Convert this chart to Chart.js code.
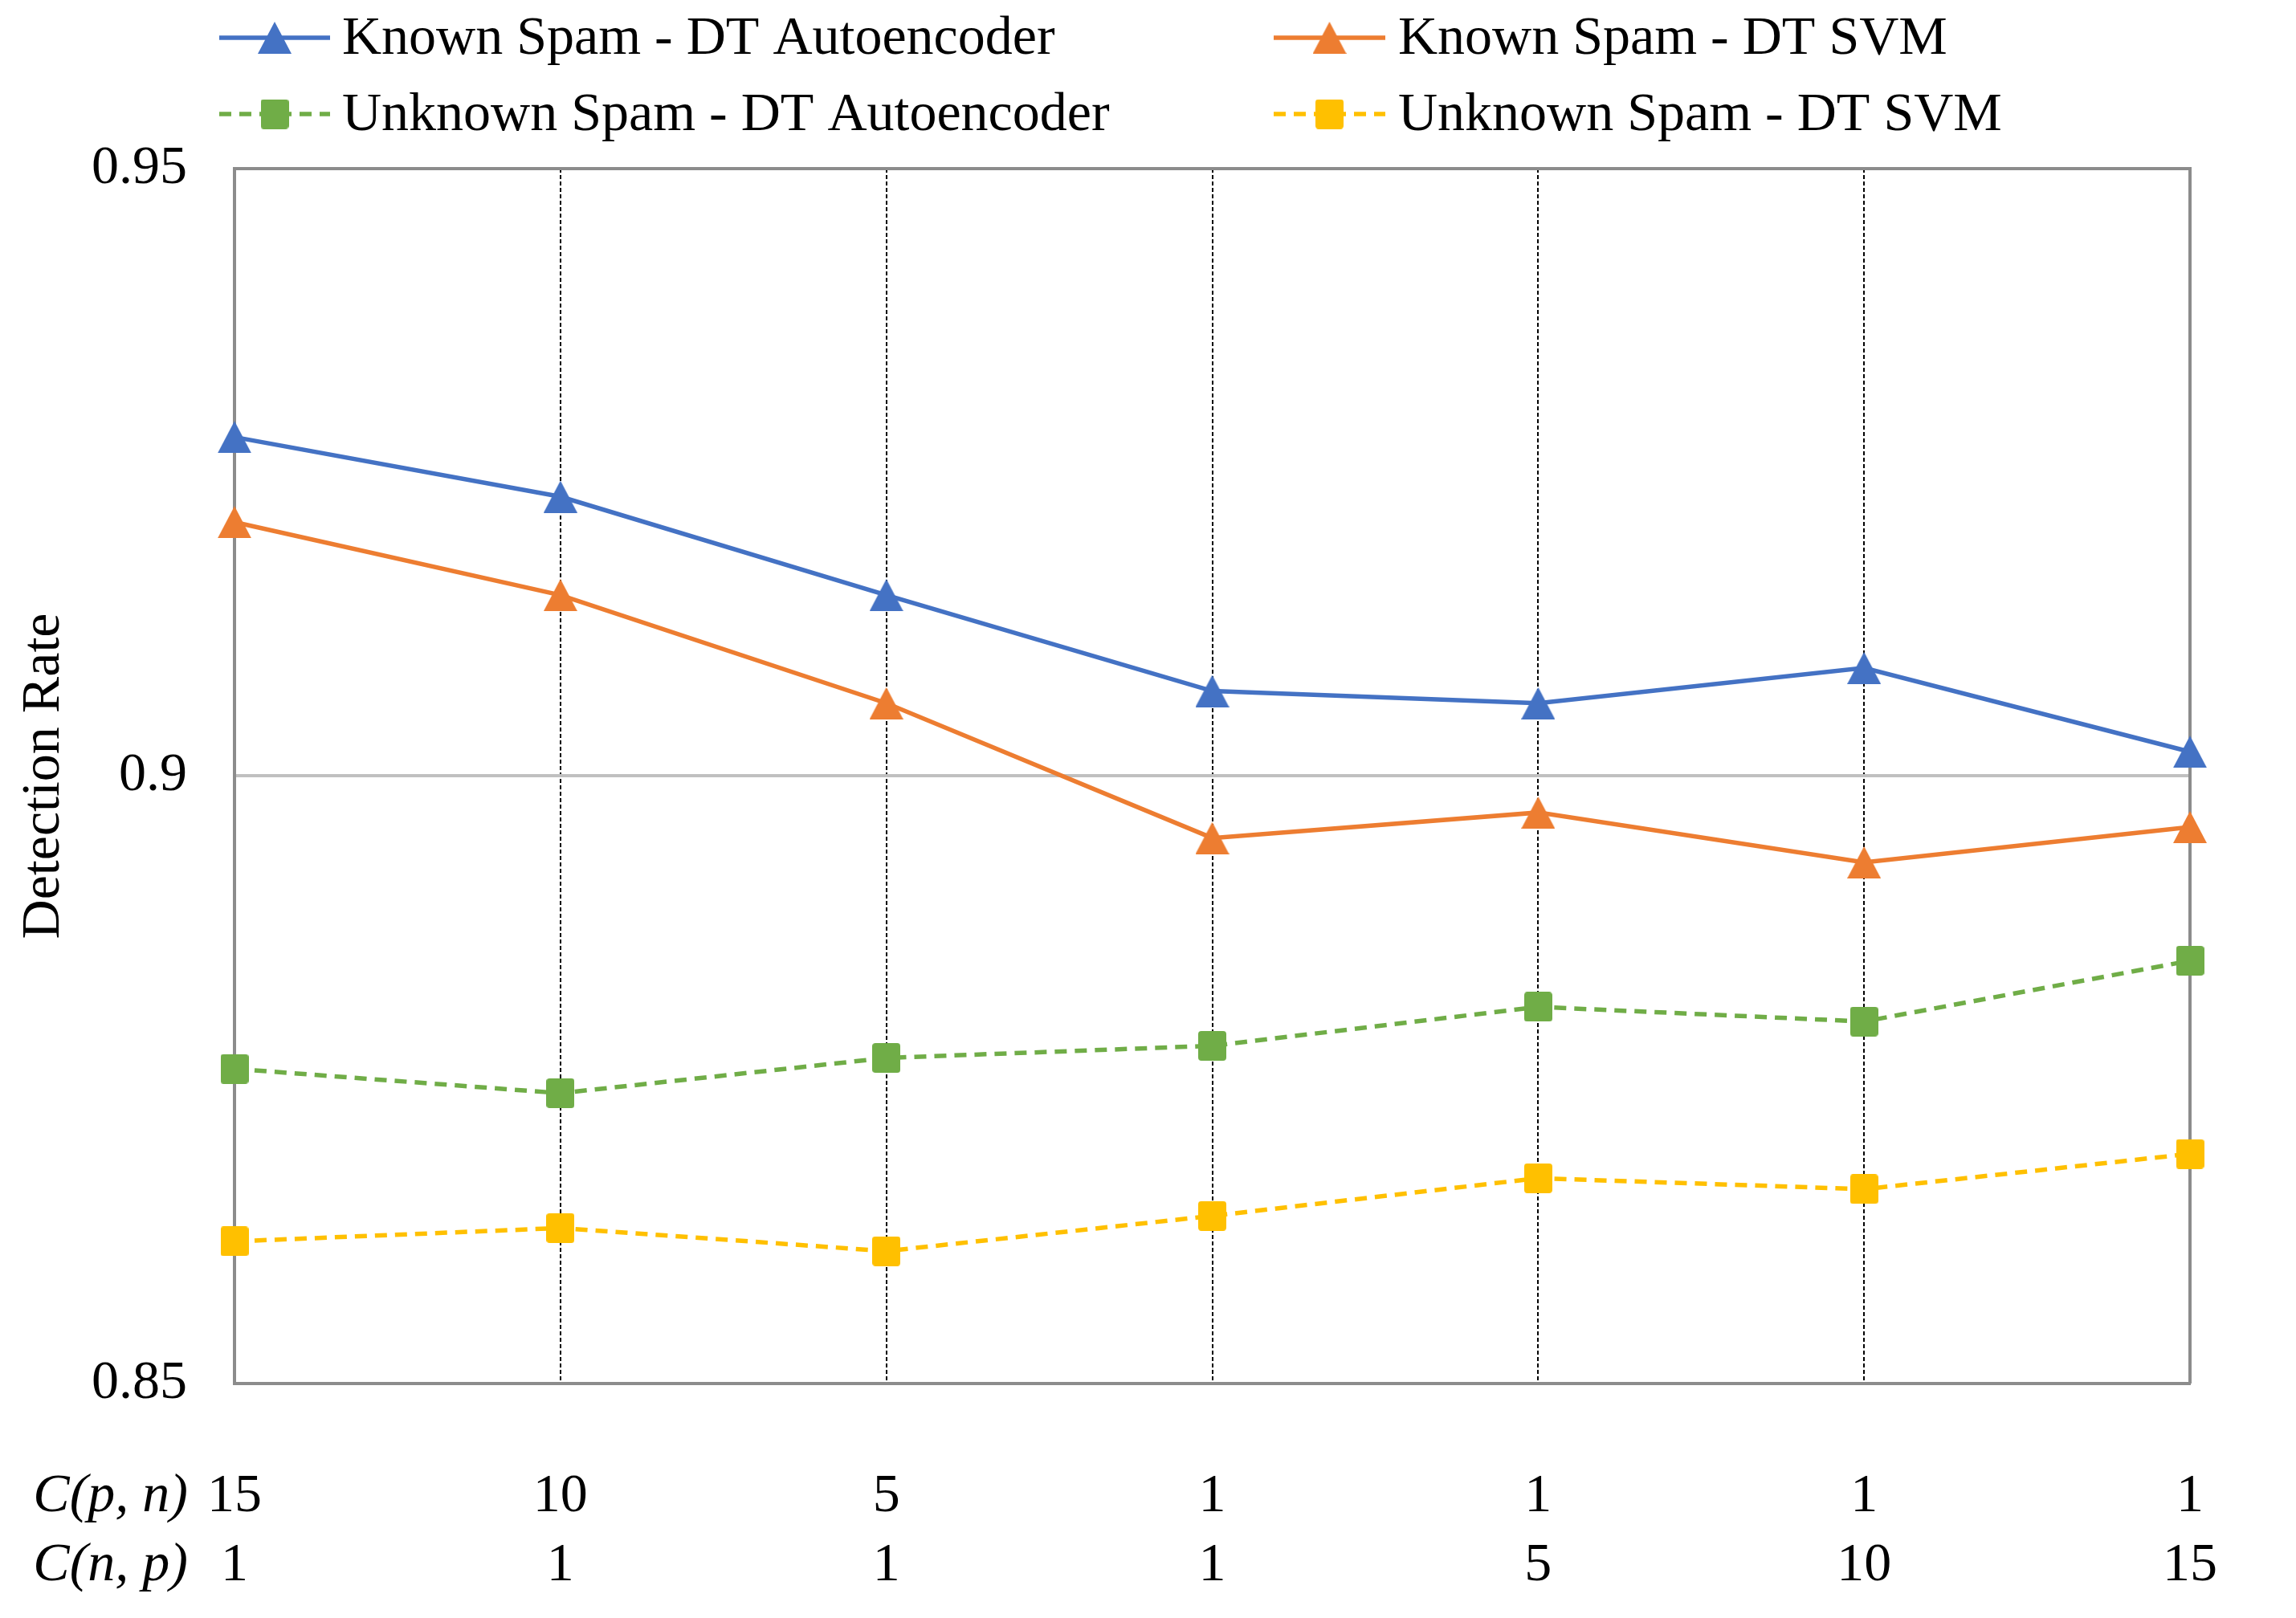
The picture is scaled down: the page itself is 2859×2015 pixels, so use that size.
<!DOCTYPE html>
<html>
<head>
<meta charset="utf-8">
<script src="https://cdn.jsdelivr.net/npm/chart.js@4.4.0/dist/chart.umd.min.js"></script>
<style>
html,body{margin:0;padding:0;background:#fff;}
#wrap{width:2859px;height:2015px;position:relative;}
</style>
</head>
<body>
<div id="wrap"><canvas id="c"></canvas></div>
<script>
// ---- data ----
const cpn = ['15','10','5','1','1','1','1'];
const cnp = ['1','1','1','1','5','10','15'];
const rowHeaders = ['C(p, n)', 'C(n, p)'];
const seriesNames = [
  'Known Spam - DT Autoencoder',
  'Known Spam - DT SVM',
  'Unknown Spam - DT Autoencoder',
  'Unknown Spam - DT SVM'
];
const knownAE    = [0.9279, 0.9230, 0.9149, 0.9070, 0.9060, 0.9089, 0.9020];
const knownSVM   = [0.9209, 0.9149, 0.9060, 0.8949, 0.8970, 0.8929, 0.8958];
const unknownAE  = [0.8759, 0.8739, 0.8768, 0.8778, 0.8810, 0.8798, 0.8848];
const unknownSVM = [0.8617, 0.8628, 0.8609, 0.8638, 0.8669, 0.8660, 0.8689];
const yTicks = [0.85, 0.9, 0.95];
const yTitle = 'Detection Rate';

// ---- styling ----
const FONT = "'Liberation Serif', 'Times New Roman', serif";
const FS = 68;
const colors = ['#4472C4', '#ED7D31', '#70AD47', '#FFC000'];
const AXIS_GRAY = '#8c8c8c';

function triangleImg(color, w, h) {
  const c = document.createElement('canvas'); c.width = w; c.height = h;
  const g = c.getContext('2d'); g.fillStyle = color;
  g.beginPath(); g.moveTo(w / 2, 0); g.lineTo(w, h); g.lineTo(0, h); g.closePath(); g.fill();
  return c;
}
function squareImg(color, w, h, r) {
  const c = document.createElement('canvas'); c.width = w; c.height = h;
  const g = c.getContext('2d'); g.fillStyle = color;
  g.beginPath();
  g.moveTo(r, 0); g.lineTo(w - r, 0); g.quadraticCurveTo(w, 0, w, r);
  g.lineTo(w, h - r); g.quadraticCurveTo(w, h, w - r, h);
  g.lineTo(r, h); g.quadraticCurveTo(0, h, 0, h - r);
  g.lineTo(0, r); g.quadraticCurveTo(0, 0, r, 0);
  g.closePath(); g.fill();
  return c;
}
const markers = [
  triangleImg(colors[0], 42, 40),
  triangleImg(colors[1], 42, 40),
  squareImg(colors[2], 35, 37, 4),
  squareImg(colors[3], 35, 37, 4)
];

const labels = cpn.map((v, i) => [v, cnp[i]]);
const seriesData = [knownAE, knownSVM, unknownAE, unknownSVM];
const dashes = [[], [], [15, 10], [15, 10]];

const datasets = seriesData.map((d, i) => ({
  label: seriesNames[i],
  data: d,
  borderColor: colors[i],
  backgroundColor: colors[i],
  borderWidth: 5.5,
  borderDash: dashes[i],
  pointStyle: markers[i],
  pointRadius: 21,
  tension: 0,
  fill: false,
  clip: false
}));

const X_TICK_PAD = 98;
const X_LINE_H = 86;

const boxPlugin = {
  id: 'boxBorder',
  beforeDatasetsDraw(chart) {
    const {ctx, chartArea: a} = chart;
    ctx.save();
    ctx.strokeStyle = AXIS_GRAY;
    ctx.lineWidth = 4;
    ctx.beginPath();
    ctx.moveTo(a.left, a.top); ctx.lineTo(a.right + 2, a.top);
    ctx.moveTo(a.right, a.top); ctx.lineTo(a.right, a.bottom);
    ctx.stroke();
    ctx.restore();
  }
};

const legendPlugin = {
  id: 'customLegend',
  afterDraw(chart) {
    const ctx = chart.ctx;
    const lineX0 = [273, 1586], lineX1 = [411, 1725], textX = [426, 1741];
    const rowY = [47, 142];
    ctx.save();
    chart.data.datasets.forEach((ds, i) => {
      const col = i % 2, row = Math.floor(i / 2);
      const y = rowY[row];
      ctx.strokeStyle = ds.borderColor;
      ctx.lineWidth = ds.borderWidth;
      ctx.setLineDash(ds.borderDash || []);
      ctx.beginPath(); ctx.moveTo(lineX0[col], y); ctx.lineTo(lineX1[col], y); ctx.stroke();
      ctx.setLineDash([]);
      const img = ds.pointStyle;
      const cx = (lineX0[col] + lineX1[col]) / 2;
      ctx.drawImage(img, cx - img.width / 2, y - img.height / 2);
      ctx.fillStyle = '#000';
      ctx.font = FS + 'px ' + FONT;
      ctx.textAlign = 'left';
      ctx.textBaseline = 'middle';
      ctx.fillText(ds.label, textX[col], y + 2);
    });
    // row headers for the two x label rows
    const xs = chart.scales.x;
    ctx.font = 'italic ' + FS + 'px ' + FONT;
    ctx.textAlign = 'right';
    ctx.textBaseline = 'middle';
    ctx.fillStyle = '#000';
    rowHeaders.forEach((t, r) => {
      ctx.fillText(t, 234, xs.top + X_TICK_PAD + X_LINE_H / 2 + r * X_LINE_H);
    });
    ctx.restore();
  }
};

new Chart(document.getElementById('c'), {
  type: 'line',
  data: { labels, datasets },
  options: {
    responsive: true,
    maintainAspectRatio: false,
    devicePixelRatio: 1,
    animation: false,
    layout: { padding: { top: 210, right: 78, left: 10, bottom: 0 } },
    plugins: { legend: { display: false }, tooltip: { enabled: false } },
    scales: {
      x: {
        type: 'category',
        offset: false,
        grid: {
          color: c => (c.index === 0 || c.index === labels.length - 1) ? 'rgba(0,0,0,0)' : '#000',
          lineWidth: 2,
          drawTicks: false
        },
        border: { display: true, color: AXIS_GRAY, width: 4, dash: [5, 3] },
        ticks: {
          color: '#000',
          padding: X_TICK_PAD,
          maxRotation: 0,
          autoSkip: false,
          font: { family: FONT, size: FS, lineHeight: X_LINE_H / FS }
        },
        afterFit: s => { s.height = 292; }
      },
      y: {
        min: yTicks[0],
        max: yTicks[yTicks.length - 1],
        afterBuildTicks: s => { s.ticks = yTicks.map(v => ({ value: v })); },
        grid: {
          color: c => (c.tick && Math.abs(c.tick.value - 0.9) < 1e-9) ? '#c0c0c0' : 'rgba(0,0,0,0)',
          lineWidth: 4,
          drawTicks: false
        },
        border: { display: true, color: AXIS_GRAY, width: 4 },
        ticks: {
          color: '#000',
          padding: 59,
          font: { family: FONT, size: FS },
          callback: v => String(v)
        },
        title: {
          display: true,
          text: yTitle,
          color: '#000',
          padding: { top: 4, bottom: 0 },
          font: { family: FONT, size: FS }
        },
        afterFit: s => { s.width = 282; }
      }
    }
  },
  plugins: [boxPlugin, legendPlugin]
});
</script>
</body>
</html>
